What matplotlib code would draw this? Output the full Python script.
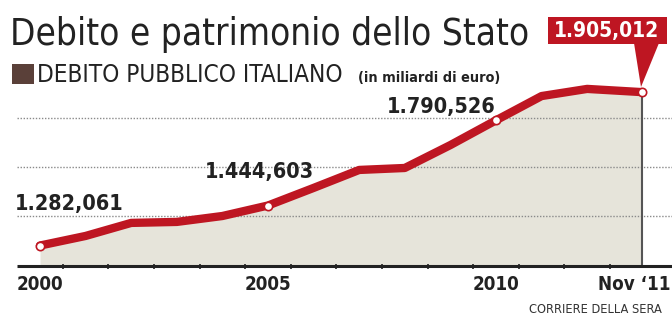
import matplotlib.pyplot as plt
from matplotlib.patches import Rectangle, Polygon

# data (index positions on the x axis, debt in billions of euro)
pos = [0, 1, 2, 3, 4, 5, 6, 7, 8, 9, 10, 11, 12, 13.2]
debt = [1282.061, 1321, 1374, 1378, 1402, 1444.603, 1516, 1589, 1597, 1690,
        1790.526, 1889, 1918, 1905.012]
marked = [0, 5, 10, 13]  # indices of the labelled points
tick_pos = [0, 5, 10]
tick_labels = ['2000', '2005', '2010']
last_label = 'Nov \u201811'
minor_ticks = [0.5 + i for i in range(13)]
grid_vals = [1400, 1600, 1800]
base = 1200

fnt = dict(family='DejaVu Sans', fontstretch='condensed')
red = '#be1622'
dark = '#222222'

W, H = 672, 316
fig = plt.figure(figsize=(W / 100, H / 100), dpi=100)
ax = fig.add_axes([0, 0, 1, 1])
ax.set_xlim(-0.877, 13.86)
ax.set_ylim(996, 2279)
ax.axis('off')

def fx(px):
    return px / W

def fy(py):
    return 1 - py / H

ax.fill_between(pos, debt, base, color='#e6e4da', lw=0, zorder=1)
ax.hlines(grid_vals, -0.5, 13.86, colors='#8a8a8a', linestyles=(0, (1, 1.2)), lw=1, zorder=2)
ax.vlines(13.2, base, debt[-1], colors='#555555', lw=1.5, zorder=2)
ax.plot(pos, debt, color=red, lw=6, solid_joinstyle='round', solid_capstyle='round', zorder=3)
ax.plot([pos[i] for i in marked], [debt[i] for i in marked], 'o', ms=6,
        mfc='white', mec=red, mew=1.2, zorder=4)

# x axis
ax.hlines(base, -0.5, 13.86, colors=dark, lw=2.2, zorder=5)
ax.vlines(minor_ticks, base - 14, base + 6, colors=dark, lw=1.2, zorder=5)
for p, lab in zip(tick_pos, tick_labels):
    ax.text(p, 1122, lab, ha='center', va='center', fontsize=13.5, fontweight='bold',
            color=dark, **fnt)
fig.text(fx(671), fy(285), last_label, ha='right', va='center', fontsize=13.5,
         fontweight='bold', color=dark, **fnt)

# value labels
ax.text(-0.55, 1451, '1.282,061', ha='left', va='center', fontsize=15.5,
        fontweight='bold', color=dark, **fnt)
ax.text(3.62, 1581, '1.444,603', ha='left', va='center', fontsize=15.5,
        fontweight='bold', color=dark, **fnt)
ax.text(7.61, 1845, '1.790,526', ha='left', va='center', fontsize=15.5,
        fontweight='bold', color=dark, **fnt)

# callout for last value
fig.patches.append(Rectangle((fx(548), fy(44)), fx(119), 27 / H, transform=fig.transFigure,
                             color=red, lw=0))
fig.patches.append(Polygon([(fx(634), fy(43)), (fx(659), fy(43)), (fx(641), fy(87))],
                           closed=True, transform=fig.transFigure, color=red, lw=0))
fig.text(fx(607), fy(31), '1.905,012', ha='center', va='center', fontsize=15,
         fontweight='bold', color='white', **fnt)

# titles
fig.text(fx(10), fy(45), 'Debito e patrimonio dello Stato', ha='left', va='baseline',
         fontsize=26.5, color=dark, **fnt)
fig.patches.append(Rectangle((fx(12), fy(84)), fx(22), 20 / H, transform=fig.transFigure,
                             color='#5a4039', lw=0))
fig.text(fx(37), fy(82), 'DEBITO PUBBLICO ITALIANO', ha='left', va='baseline',
         fontsize=17.5, color=dark, **fnt)
fig.text(fx(358), fy(82), '(in miliardi di euro)', ha='left', va='baseline',
         fontsize=10.4, fontweight='bold', color=dark, **fnt)

fig.text(fx(662), fy(313), 'CORRIERE DELLA SERA', ha='right', va='baseline',
         fontsize=9.2, color='#333333', **fnt)

fig.savefig('out.png', dpi=100)
